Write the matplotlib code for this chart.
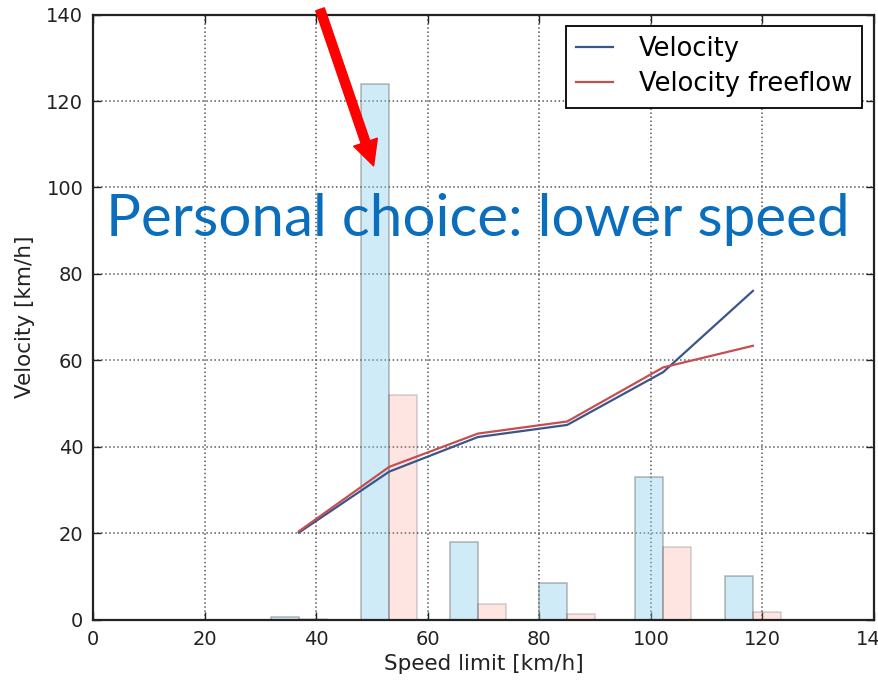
import matplotlib
matplotlib.use("Agg")
import numpy as np
import matplotlib.pyplot as plt

# -----------------------
# Data
# -----------------------
speed_limit = np.array([36.9, 53.1, 69.0, 85.0, 102.2, 118.3])
velocity = [20.2, 34.3, 42.3, 45.1, 57.3, 76.1]
velocity_freeflow = [20.5, 35.4, 43.1, 45.9, 58.4, 63.4]
count_velocity = [0.8, 124, 18, 8.6, 33.1, 10.1]
count_freeflow = [0.3, 52, 3.7, 1.4, 16.8, 1.9]

xticks = [0, 20, 40, 60, 80, 100, 120, 140]
yticks = [0, 20, 40, 60, 80, 100, 120, 140]
note = "Personal choice: lower speed"

# -----------------------
# Figure
# -----------------------
fig = plt.figure(figsize=(8.79, 6.81), dpi=100)
ax = fig.add_axes([0.1058, 0.0896, 0.8885, 0.8891])

bar_w = 5.0
ax.bar(speed_limit - bar_w, count_velocity, bar_w, align="edge",
       color="#87CEEB", alpha=0.4, edgecolor="0.35", linewidth=1.2, zorder=2)
ax.bar(speed_limit, count_freeflow, bar_w, align="edge",
       color="#FA8072", alpha=0.2, edgecolor="0.2", linewidth=1.2, zorder=2)

ax.plot(speed_limit, velocity, color="#3a5688", lw=1.6, label="Velocity", zorder=3)
ax.plot(speed_limit, velocity_freeflow, color="#c44e52", lw=1.6,
        label="Velocity freeflow", zorder=3)

ax.set_xlim(0, 140)
ax.set_ylim(0, 140)
ax.set_xticks(xticks)
ax.set_yticks(yticks)
ax.tick_params(direction="in", top=True, right=True, length=6, width=1,
               labelsize=14, pad=7, colors="#222222")
ax.grid(True, color="0.35", linestyle=":", linewidth=1.1, zorder=0)
ax.set_axisbelow(True)
for sp in ax.spines.values():
    sp.set_linewidth(1.6)
    sp.set_color("#222222")

ax.set_xlabel("Speed limit [km/h]", fontsize=15.5, color="#222222", labelpad=4)
ax.set_ylabel("Velocity [km/h]", fontsize=15.5, color="#222222", labelpad=8)

leg = ax.legend(loc="upper right", fontsize=18.5, fancybox=False, framealpha=1,
                edgecolor="black", borderaxespad=0.45, handlelength=1.45,
                handletextpad=1.0, borderpad=0.4, labelspacing=0.35)
leg.get_frame().set_linewidth(1.3)

# annotation overlay
ax.text(2.4, 88.9, note, fontsize=42, family=["Lato", "DejaVu Sans"],
        color="#0a6ebd", va="baseline", ha="left", zorder=5)
ax.annotate("", xy=(50.3, 105.0), xytext=(40.7, 141.2),
            arrowprops=dict(facecolor="red", edgecolor="red", width=6.5,
                            headwidth=18, headlength=18, shrink=0),
            annotation_clip=False, zorder=6)

fig.savefig("out.png", dpi=100)
